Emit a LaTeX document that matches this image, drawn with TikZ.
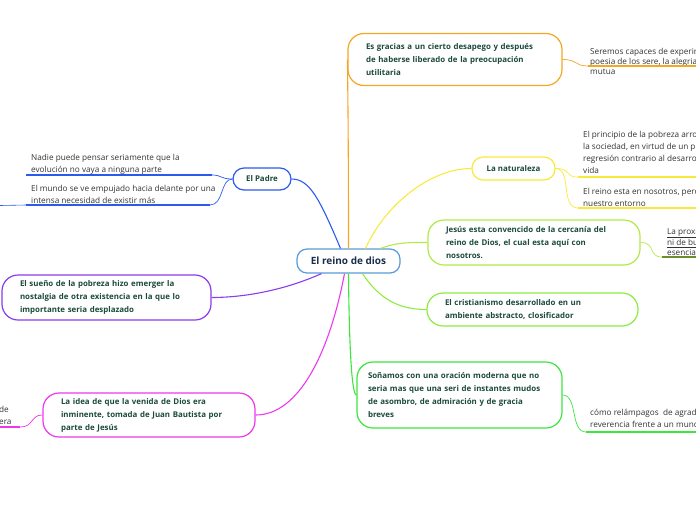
\documentclass[tikz,border=0pt]{standalone}
\usepackage{fontspec}
\setmainfont{Open Sans}
\usepackage{tikz}
\usetikzlibrary{positioning}

\definecolor{ideablue}{HTML}{5B9BD5}
\definecolor{ideatext}{HTML}{1A2E4A}
\definecolor{topictext}{HTML}{1B4A3C}
\definecolor{leaftext}{HTML}{333333}
\definecolor{corange}{HTML}{F5A623}
\definecolor{cyellow}{HTML}{F8EA3A}
\definecolor{clime}{HTML}{B2EA48}
\definecolor{cgreen}{HTML}{8CEC40}
\definecolor{cbright}{HTML}{3CE63C}
\definecolor{cmagenta}{HTML}{EE38EE}
\definecolor{cpurple}{HTML}{8A3CEE}
\definecolor{cblue}{HTML}{2A5AEE}

\tikzset{
	idea/.style={draw=ideablue, line width=1.2pt, fill=white, rounded corners=10pt,
		font=\bfseries\fontsize{10}{12}\selectfont, text=ideatext,
		minimum width=103pt, minimum height=24pt},
	topic/.style={draw=#1, line width=1.2pt, fill=white, rounded corners=16pt,
		font=\bfseries\fontsize{7.9}{13}\selectfont, text=topictext, align=left, inner xsep=18pt},
	smalltopic/.style={topic=#1, align=center, inner xsep=4pt, rounded corners=11pt},
	leaf/.style={font=\fontsize{8.2}{12}\selectfont, text=leaftext, align=left, inner sep=0pt, anchor=base west},
	branch/.style={draw=#1, line width=1.1pt},
	under/.style={draw=#1, line width=1.8pt},
}

\begin{document}
\begin{tikzpicture}[x=1pt,y=-1pt]
		\useasboundingbox (0,0) rectangle (696,520);
		\clip (0,0) rectangle (696,520);
		
		% Central idea
		\node[idea] (reino) at (348.5,261) {El reino de dios};
		
		% Main topics
		\node[topic=corange, text width=178pt, minimum height=52pt] (desapego) at (455,59.5)
			{Es gracias a un cierto desapego y después\\de haberse liberado de la preocupación\\utilitaria};
		\node[smalltopic=cyellow, minimum width=83pt, minimum height=23pt] (naturaleza) at (513.5,168.5)
			{La naturaleza};
		\node[topic=clime, text width=176pt, minimum height=45pt] (cercania) at (534,242.5)
			{Jesús esta convencido de la cercanía del\\reino de Dios, el cual esta aquí con\\nosotros.};
		\node[topic=cgreen, text width=175pt, minimum height=33pt] (cristianismo) at (532.5,309.5)
			{El cristianismo desarrollado en un\\ambiente abstracto, closificador};
		\node[topic=cbright, text width=183pt, inner xsep=11pt, minimum height=66pt] (oracion) at (459.5,395)
			{Soñamos con una oración moderna que no\\seria mas que una seri de instantes mudos\\de asombro, de admiración y de gracia\\breves};
		\node[topic=cmagenta, text width=176pt, minimum height=44pt] (venida) at (149,415)
			{La idea de que la venida de Dios era\\inminente, tomada de Juan Bautista por\\parte de Jesús};
		\node[topic=cpurple, text width=173pt, minimum height=45pt] (nostalgia) at (106.5,297.5)
			{El sueño de la pobreza hizo emerger la\\nostalgia de otra existencia en la que lo\\importante seria desplazado};
		\node[smalltopic=cblue, minimum width=58pt, minimum height=22pt] (padre) at (262,179)
			{El Padre};
		
		% Leaves (placed by the baseline of their last line)
		\node[leaf, font=\fontsize{8.2}{10}\selectfont] (seremos) at (590,74.5)
			{Seremos capaces de experimen\\poesia de los sere, la alegria de\\mutua};
		\node[leaf] (principio) at (583,173.5)
			{El principio de la pobreza arro\\la sociedad, en virtud de un pr\\regresión contrario al desarro\\vida};
		\node[leaf] (nosotros) at (583,206.5)
			{El reino esta en nosotros, pero es\\nuestro entorno};
		\node[leaf, font=\fontsize{8.2}{10}\selectfont] (proxi) at (667,255.5)
			{\underline{La proxi}\\\underline{ni de bu}\\\underline{esencial}};
		\node[leaf] (relampagos) at (590,427.5)
			{cómo relámpagos \ de agrad\\reverencia frente a un mund};
		\node[leaf] (era) at (-1,424.5)
			{de\\era};
		\node[leaf] (nadie) at (31,172.5)
			{Nadie puede pensar seriamente que la\\evolución no vaya a ninguna parte};
		\node[leaf] (mundo) at (31,203.5)
			{El mundo se ve empujado hacia delante por una\\intensa necesidad de existir más};
		
		% Underline ends
		\coordinate (seremosA) at (588,66);   \coordinate (seremosB) at (696,66);
		\coordinate (principioA) at (578,177); \coordinate (principioB) at (696,177);
		\coordinate (nosotrosA) at (578,208);  \coordinate (nosotrosB) at (696,208);
		\coordinate (proxiA) at (662,257);     \coordinate (proxiB) at (696,257);
		\coordinate (relampagosA) at (586,432); \coordinate (relampagosB) at (696,432);
		\coordinate (eraA) at (20,427);        \coordinate (eraB) at (0,427);
		\coordinate (nadieA) at (212,175);     \coordinate (nadieB) at (26,175);
		\coordinate (mundoA) at (210,205);     \coordinate (mundoB) at (26,205);
		\coordinate (mundoC) at (0,205.5);
		
		% Branches from the central idea
		\draw[branch=corange] (reino.north) .. controls (348.5,160) and (348,100) .. (desapego.west);
		\draw[branch=cyellow] ([xshift=17pt]reino.north) .. controls (385,205) and (430,168.5) .. (naturaleza.west);
		\draw[branch=clime] ([xshift=32pt]reino.north) .. controls (398,242) and (410,242.5) .. (cercania.west);
		\draw[branch=cgreen] ([xshift=14pt]reino.south) .. controls (380,300) and (400,309.5) .. (cristianismo.west);
		\draw[branch=cbright] (reino.south) .. controls (349,330) and (351,395) .. (oracion.west);
		\draw[branch=cmagenta] ([xshift=-4pt]reino.south) .. controls (330,350) and (300,415) .. (venida.east);
		\draw[branch=cpurple] ([xshift=-27pt]reino.south) .. controls (280,292) and (240,297.5) .. (nostalgia.east);
		\draw[branch=cblue] ([xshift=-8pt]reino.north) .. controls (320,200) and (310,179) .. (padre.east);
		
		% Branches to the leaves
		\draw[branch=corange, line width=0.7pt] (desapego.east) .. controls (578,59.5) and (574,66) .. (seremosA);
		\draw[under=corange] (seremosA) -- (seremosB);
		\draw[branch=cyellow, line width=0.7pt] (naturaleza.east) .. controls (572,168.5) and (564,177) .. (principioA);
		\draw[branch=cyellow, line width=0.7pt] (naturaleza.east) .. controls (572,168.5) and (560,208) .. (nosotrosA);
		\draw[under=cyellow] (principioA) -- (principioB);
		\draw[under=cyellow] (nosotrosA) -- (nosotrosB);
		\draw[branch=clime, line width=0.7pt] (cercania.east) .. controls (656,242.5) and (648,257) .. (proxiA);
		\draw[under=clime!60!black] (proxiA) -- (proxiB);
		\draw[branch=cbright, line width=0.7pt] (oracion.east) .. controls (578,395) and (570,432) .. (relampagosA);
		\draw[under=cbright] (relampagosA) -- (relampagosB);
		\draw[branch=cmagenta, line width=0.7pt] (venida.west) .. controls (30,415) and (34,427) .. (eraA);
		\draw[under=cmagenta] (eraA) -- (eraB);
		\draw[branch=cblue, line width=0.7pt] (padre.west) .. controls (220,179) and (222,175) .. (nadieA);
		\draw[branch=cblue, line width=0.7pt] (padre.west) .. controls (220,179) and (224,205) .. (mundoA);
		\draw[under=cblue] (nadieA) -- (nadieB);
		\draw[under=cblue] (mundoA) -- (mundoB);
		\draw[branch=cblue, line width=0.6pt] (mundoB) -- (mundoC);
	\end{tikzpicture}
\end{document}
